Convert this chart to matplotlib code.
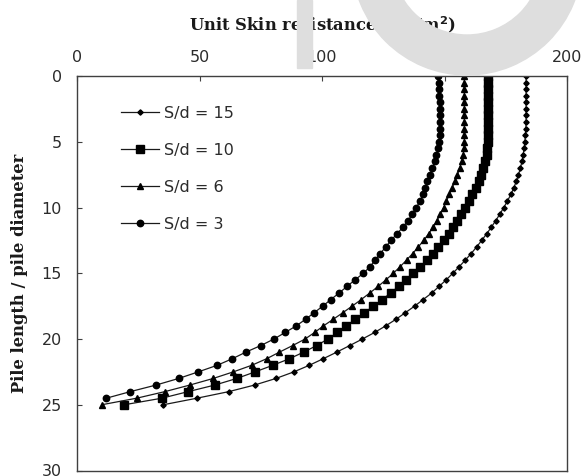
import matplotlib
matplotlib.use('Agg')
import matplotlib.pyplot as plt
from matplotlib.patches import Rectangle, Wedge

# depth ratio (pile length / pile diameter) at which each point is plotted
depth = [0, 0.5, 1, 1.5, 2, 2.5, 3, 3.5, 4, 4.5,
         5, 5.5, 6, 6.5, 7, 7.5, 8, 8.5, 9, 9.5,
         10, 10.5, 11, 11.5, 12, 12.5, 13, 13.5, 14, 14.5,
         15, 15.5, 16, 16.5, 17, 17.5, 18, 18.5, 19, 19.5,
         20, 20.5, 21, 21.5, 22, 22.5, 23, 23.5, 24, 24.5, 25]

# unit skin resistance (kN/m2)
sd15 = [183.3, 183.3, 183.3, 183.3, 183.3, 183.3, 183.3, 183.3, 183.2, 183.0,
        182.8, 182.5, 182.1, 181.6, 181.0, 180.2, 179.3, 178.3, 177.1, 175.7,
        174.2, 172.6, 170.9, 169.1, 167.2, 165.2, 163.1, 160.9, 158.5, 156.0,
        153.4, 150.7, 147.8, 144.8, 141.3, 137.8, 134.0, 130.2, 126.0, 121.5,
        116.5, 111.3, 106.0, 100.5, 94.8, 88.5, 81.2, 72.5, 62.0, 49.0, 35.2]
sd10 = [167.6, 167.6, 167.6, 167.6, 167.6, 167.6, 167.6, 167.6, 167.6, 167.6,
        167.6, 167.5, 167.2, 166.6, 165.8, 164.9, 163.9, 162.8, 161.4, 159.9,
        158.4, 156.9, 155.3, 153.6, 151.7, 149.7, 147.5, 145.2, 142.7, 140.1,
        137.3, 134.4, 131.3, 128.0, 124.6, 121.0, 117.3, 113.6, 109.9, 106.3,
        102.4, 97.8, 92.5, 86.7, 79.9, 72.7, 65.2, 56.3, 45.4, 34.7, 19.3]
sd6 = [158.1, 158.1, 158.1, 158.1, 158.1, 158.1, 158.1, 158.1, 158.1, 158.1,
       158.1, 158.0, 157.6, 157.0, 156.2, 155.3, 154.3, 153.1, 152.0, 150.8,
       149.6, 148.3, 146.9, 145.3, 143.5, 141.5, 139.3, 137.0, 134.5, 131.9,
       129.1, 126.1, 122.9, 119.5, 116.0, 112.3, 108.5, 104.6, 100.6, 97.0,
       93.1, 88.0, 82.6, 77.4, 71.3, 63.8, 55.6, 46.1, 35.9, 24.4, 10.1]
sd3 = [147.5, 147.6, 147.7, 147.8, 148.0, 148.2, 148.3, 148.3, 148.3, 148.2,
       147.9, 147.4, 146.7, 146.0, 145.1, 144.1, 143.0, 142.2, 141.3, 140.0,
       138.5, 136.9, 135.1, 133.0, 130.6, 128.2, 126.0, 123.8, 121.7, 119.6,
       116.9, 113.5, 110.2, 107.0, 103.6, 100.3, 96.8, 93.3, 89.5, 85.0,
       80.4, 75.0, 68.9, 63.4, 57.2, 49.5, 41.5, 32.3, 21.8, 12.0]

labels = ['S/d = 15', 'S/d = 10', 'S/d = 6', 'S/d = 3']
xticks = [0, 50, 100, 150, 200]
yticks = [0, 5, 10, 15, 20, 25, 30]

W, H = 582, 476
fig = plt.figure(figsize=(W / 100, H / 100), dpi=100)

# faint watermark behind the chart (bottom of big grey letters)
wm = '#dedede'
fig.patches.append(Rectangle((297 / W, 1 - 68 / H), 15 / W, 68 / H,
                             transform=fig.transFigure, color=wm, zorder=0))
fig.patches.append(Wedge((467, H + 40), 115, 0, 360, width=40,
                         transform=None, color=wm, zorder=0))

ax = fig.add_axes([77 / W, 1 - 470.5 / H, 490 / W, 394.5 / H])
ax.patch.set_alpha(0)

line_kw = dict(color='#1a1a1a', lw=0.9, mfc='black', mec='black')
ax.plot(sd15, depth, marker='D', ms=2.7, label=labels[0], **line_kw)
ax.plot(sd10, depth, marker='s', ms=5.2, label=labels[1], **line_kw)
ax.plot(sd6, depth, marker='^', ms=5.0, label=labels[2], **line_kw)
ax.plot(sd3, depth[:len(sd3)], marker='o', ms=4.6, label=labels[3], **line_kw)

ax.set_xlim(0, 200)
ax.set_ylim(30, 0)
ax.set_xticks(xticks)
ax.set_yticks(yticks)
ax.xaxis.tick_top()
ax.xaxis.set_label_position('top')
ax.tick_params(direction='in', length=3.5, width=0.8, color='#404040',
               labelsize=11.5, labelcolor='#2b2b2b')
ax.tick_params(axis='x', pad=8)
ax.tick_params(axis='y', pad=11)
for sp in ax.spines.values():
    sp.set_color('#404040')
    sp.set_linewidth(1.0)

lab_font = dict(family='DejaVu Serif', weight='bold', size=11.8, color='#1a1a1a')
ax.set_xlabel('Unit Skin resistance (kN/m$^{\\mathbf{2}}$)', **lab_font)
ax.set_ylabel('Pile length / pile diameter', **lab_font)
ax.xaxis.set_label_coords(0.5, (470.5 - 30) / 394.5)
ax.yaxis.set_label_coords((28 - 77) / 490, 0.5)

leg = ax.legend(loc='upper left', bbox_to_anchor=((121 - 77) / 490, (470.5 - 106) / 394.5),
                frameon=False, fontsize=11.5, handlelength=2.4, handletextpad=0.3,
                labelspacing=1.37, borderpad=0, borderaxespad=0)
for t in leg.get_texts():
    t.set_color('#2b2b2b')

fig.savefig('out.png', dpi=100)
